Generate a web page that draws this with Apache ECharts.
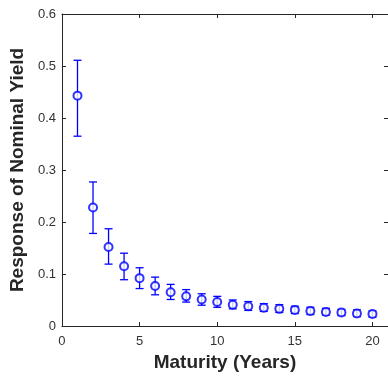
<!DOCTYPE html>
<html>
<head>
<meta charset="utf-8">
<script src="https://cdn.jsdelivr.net/npm/echarts@6/dist/echarts.min.js"></script>
<style>
  html, body { margin: 0; padding: 0; background: #fff; }
  #chart { width: 388px; height: 377px; }
</style>
</head>
<body>
<div id="chart"></div>
<script>
// maturity in years
var maturity = [1, 2, 3, 4, 5, 6, 7, 8, 9, 10, 11, 12, 13, 14, 15, 16, 17, 18, 19, 20];
// point estimate of the response
var response = [0.443, 0.228, 0.152, 0.115, 0.092, 0.077, 0.065, 0.057, 0.051, 0.046,
                0.041, 0.038, 0.035, 0.033, 0.031, 0.029, 0.027, 0.026, 0.024, 0.023];
// error bar bounds
var lower = [0.365, 0.178, 0.119, 0.089, 0.072, 0.060, 0.051, 0.046, 0.040, 0.036,
             0.033, 0.030, 0.028, 0.026, 0.024, 0.022, 0.021, 0.020, 0.018, 0.017];
var upper = [0.511, 0.277, 0.187, 0.140, 0.112, 0.094, 0.080, 0.070, 0.062, 0.057,
             0.050, 0.047, 0.043, 0.041, 0.038, 0.036, 0.034, 0.032, 0.031, 0.029];

var FONT = '"Liberation Sans", Arial, Helvetica, sans-serif';
var AXIS_COLOR = '#262626';
var BLUE = '#0000ff';

var points = maturity.map(function (m, i) { return [m, response[i]]; });
var bars = maturity.map(function (m, i) { return [m, lower[i], upper[i]]; });

// error bar: vertical line with caps
function renderErrorBar(params, api) {
  var x = api.value(0);
  var top = api.coord([x, api.value(2)]);
  var bot = api.coord([x, api.value(1)]);
  var w = 4;
  var style = { stroke: BLUE, lineWidth: 1.3 };
  return {
    type: 'group',
    children: [
      { type: 'line', shape: { x1: top[0], y1: top[1], x2: bot[0], y2: bot[1] }, style: style },
      { type: 'line', shape: { x1: top[0] - w, y1: top[1], x2: top[0] + w, y2: top[1] }, style: style },
      { type: 'line', shape: { x1: bot[0] - w, y1: bot[1], x2: bot[0] + w, y2: bot[1] }, style: style }
    ]
  };
}

var chart = echarts.init(document.getElementById('chart'), null, { renderer: 'canvas' });

var xCommon = {
  type: 'value', min: 0, max: 21, interval: 5,
  axisLine: { show: true, onZero: false, lineStyle: { color: AXIS_COLOR, width: 1 } },
  axisTick: { show: true, inside: true, length: 4, lineStyle: { color: AXIS_COLOR } },
  splitLine: { show: false }
};
var yCommon = {
  type: 'value', min: 0, max: 0.6, interval: 0.1,
  axisLine: { show: true, onZero: false, lineStyle: { color: AXIS_COLOR, width: 1 } },
  axisTick: { show: true, inside: true, length: 4, lineStyle: { color: AXIS_COLOR } },
  splitLine: { show: false }
};

var option = {
  backgroundColor: '#ffffff',
  animation: false,
  grid: { left: 58, top: 14, width: 331, height: 318, containLabel: false },
  xAxis: [
    Object.assign({}, xCommon, {
      position: 'bottom',
      name: 'Maturity (Years)',
      nameLocation: 'middle',
      nameGap: 27,
      nameTextStyle: { color: AXIS_COLOR, fontFamily: FONT, fontSize: 19, fontWeight: 'bold' },
      axisLabel: {
        color: '#333', fontFamily: FONT, fontSize: 13, margin: 9,
        showMaxLabel: false,
        formatter: function (v) { return v % 5 === 0 ? String(v) : ''; }
      }
    }),
    Object.assign({}, xCommon, { position: 'top', axisLabel: { show: false } })
  ],
  yAxis: [
    Object.assign({}, yCommon, {
      position: 'left',
      name: 'Response of Nominal Yield',
      nameLocation: 'middle',
      nameGap: 29,
      nameTextStyle: { color: AXIS_COLOR, fontFamily: FONT, fontSize: 19, fontWeight: 'bold' },
      axisLabel: {
        color: '#333', fontFamily: FONT, fontSize: 13, margin: 6,
        formatter: function (v) { return v === 0 ? '0' : v.toFixed(1); }
      }
    }),
    Object.assign({}, yCommon, { position: 'right', axisLabel: { show: false } })
  ],
  series: [
    {
      type: 'custom',
      xAxisIndex: 0,
      yAxisIndex: 0,
      renderItem: renderErrorBar,
      encode: { x: 0, y: [1, 2] },
      data: bars,
      z: 2
    },
    {
      type: 'scatter',
      xAxisIndex: 0,
      yAxisIndex: 0,
      symbol: 'emptyCircle',
      symbolSize: 8,
      itemStyle: { color: BLUE, borderColor: BLUE, borderWidth: 1.4 },
      data: points,
      z: 3
    }
  ]
};

chart.setOption(option);
</script>
</body>
</html>
